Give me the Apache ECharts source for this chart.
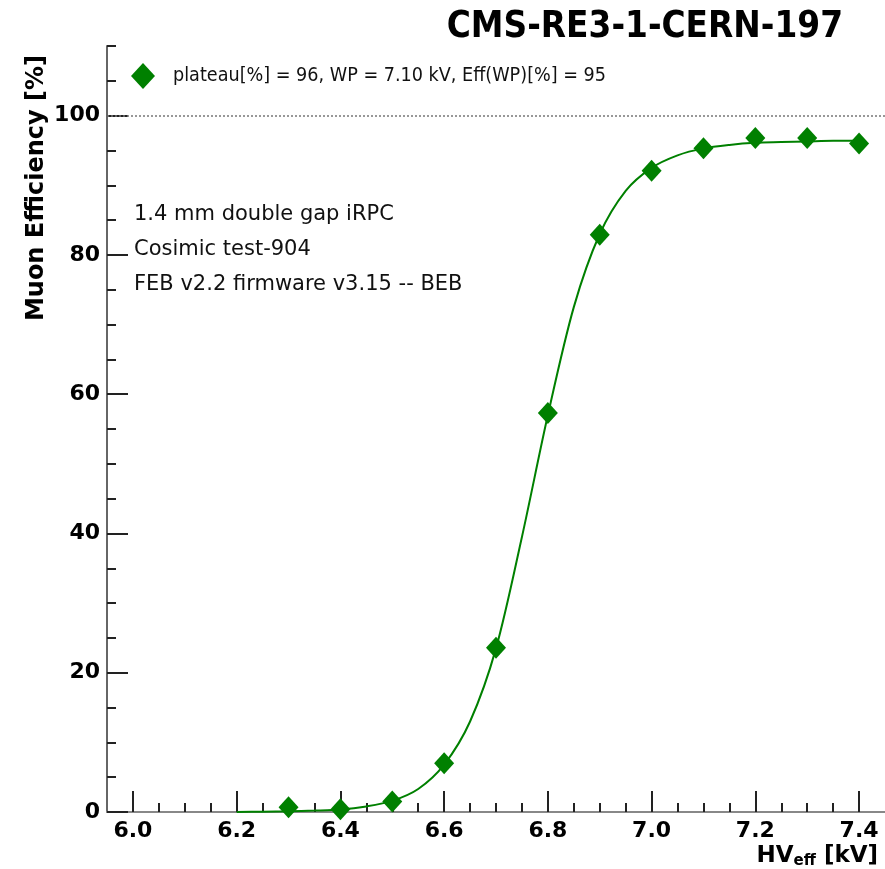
<!DOCTYPE html>
<html>
<head>
<meta charset="utf-8">
<script src="https://cdn.jsdelivr.net/npm/echarts@6/dist/echarts.min.js"></script>
<style>
  html, body { margin: 0; padding: 0; background: #fff; }
  #chart { width: 885px; height: 869px; }
</style>
</head>
<body>
<div id="chart"></div>
<script>
// measured points
let hvPoints = [6.3, 6.4, 6.5, 6.6, 6.7, 6.8, 6.9, 7.0, 7.1, 7.2, 7.3, 7.4];
let effPoints = [0.7, 0.4, 1.5, 7.0, 23.6, 57.3, 82.9, 92.1, 95.3, 96.8, 96.8, 96.0];

// fitted curve
let fitHV = [6.20, 6.25, 6.30, 6.35, 6.40, 6.45, 6.50, 6.55, 6.60, 6.65, 6.70, 6.75, 6.80,
             6.85, 6.90, 6.95, 7.00, 7.05, 7.10, 7.15, 7.20, 7.25, 7.30, 7.35, 7.40];
let fitEff = [0.0, 0.05, 0.1, 0.2, 0.35, 0.8, 1.6, 3.3, 6.8, 13.0, 23.5, 39.5, 57.0,
              72.5, 83.0, 89.2, 92.5, 94.3, 95.3, 95.8, 96.1, 96.2, 96.3, 96.4, 96.4];

let xMajorTicks = [6.0, 6.2, 6.4, 6.6, 6.8, 7.0, 7.2, 7.4];
let xMinorTicks = [6.05, 6.1, 6.15, 6.25, 6.3, 6.35, 6.45, 6.5, 6.55, 6.65, 6.7, 6.75,
                   6.85, 6.9, 6.95, 7.05, 7.1, 7.15, 7.25, 7.3, 7.35];
let yMajorTicks = [0, 20, 40, 60, 80, 100];
let yMinorTicks = [5, 10, 15, 25, 30, 35, 45, 50, 55, 65, 70, 75, 85, 90, 95, 105, 110];

let legendText = 'plateau[%] = 96, WP = 7.10 kV, Eff(WP)[%] = 95';
let infoLines = ['1.4 mm double gap iRPC', 'Cosimic test-904', 'FEB v2.2 firmware v3.15 -- BEB'];

let green = '#008000';
let tickColor = '#222';
let tickFont = {
    fontFamily: 'DejaVu Sans',
    fontWeight: 'bold',
    fontSize: 22,
    color: '#000'
};

let fitData = fitHV.map(function (v, i) { return [v, fitEff[i]]; });
let pointData = hvPoints.map(function (v, i) { return [v, effPoints[i]]; });

let infoGraphics = infoLines.map(function (t, i) {
    return {
        type: 'text',
        left: 134,
        top: 204 + i * 35,
        style: {
            text: t,
            font: '21px "DejaVu Sans"',
            fill: '#111'
        }
    };
});

let option = {
    backgroundColor: '#fff',
    animation: false,
    grid: {
        left: 107,
        top: 46,
        width: 785,
        height: 766
    },
    legend: {
        data: [legendText],
        left: 126,
        top: 58,
        icon: 'diamond',
        itemWidth: 24,
        itemHeight: 26,
        textStyle: {
            fontFamily: '"DejaVu Sans Condensed", "DejaVu Sans"',
            fontSize: 19.6,
            color: '#111',
            padding: [0, 0, 0, 13]
        }
    },
    xAxis: [
        {
            type: 'value',
            min: 5.95,
            max: 7.45,
            position: 'bottom',
            axisLine: { show: true, lineStyle: { color: '#888', width: 2 } },
            axisTick: {
                show: true,
                inside: true,
                length: 21,
                customValues: xMajorTicks,
                lineStyle: { color: tickColor, width: 2 }
            },
            axisLabel: {
                show: true,
                margin: 8,
                customValues: xMajorTicks,
                formatter: function (v) { return v.toFixed(1); },
                ...tickFont
            },
            splitLine: { show: false }
        },
        {
            type: 'value',
            min: 5.95,
            max: 7.45,
            position: 'bottom',
            axisLine: { show: false },
            axisTick: {
                show: true,
                inside: true,
                length: 9,
                customValues: xMinorTicks,
                lineStyle: { color: tickColor, width: 2 }
            },
            axisLabel: { show: false },
            splitLine: { show: false }
        }
    ],
    yAxis: [
        {
            type: 'value',
            min: 0,
            max: 110,
            position: 'left',
            axisLine: { show: true, lineStyle: { color: '#666', width: 2 } },
            axisTick: {
                show: true,
                inside: true,
                length: 21,
                customValues: yMajorTicks,
                lineStyle: { color: tickColor, width: 2 }
            },
            axisLabel: {
                show: true,
                margin: 7,
                customValues: yMajorTicks,
                ...tickFont
            },
            splitLine: { show: false }
        },
        {
            type: 'value',
            min: 0,
            max: 110,
            position: 'left',
            axisLine: { show: false },
            axisTick: {
                show: true,
                inside: true,
                length: 9,
                customValues: yMinorTicks,
                lineStyle: { color: tickColor, width: 2 }
            },
            axisLabel: { show: false },
            splitLine: { show: false }
        }
    ],
    graphic: [
        {
            type: 'text',
            right: 42,
            top: 9,
            style: {
                text: 'CMS-RE3-1-CERN-197',
                font: 'bold 36.5px "DejaVu Sans Condensed", "DejaVu Sans"',
                fill: '#000'
            }
        },
        {
            type: 'text',
            x: 37,
            y: 55,
            rotation: Math.PI / 2,
            style: {
                text: 'Muon Efficiency [%]',
                font: 'bold 24px "DejaVu Sans"',
                fill: '#000',
                align: 'right',
                verticalAlign: 'middle'
            }
        },
        {
            type: 'text',
            right: 7,
            top: 845,
            style: {
                text: '{a|HV}{b|eff}{a| [kV]}',
                rich: {
                    a: { fontFamily: 'DejaVu Sans', fontWeight: 'bold', fontSize: 23, fill: '#000', color: '#000' },
                    b: { fontFamily: 'DejaVu Sans', fontWeight: 'bold', fontSize: 15, fill: '#000', color: '#000', padding: [10, 0, 0, 0] }
                }
            }
        }
    ].concat(infoGraphics),
    series: [
        {
            name: 'fit',
            type: 'line',
            data: fitData,
            xAxisIndex: 0,
            yAxisIndex: 0,
            showSymbol: false,
            smooth: 0.3,
            lineStyle: { color: green, width: 2 },
            itemStyle: { color: green },
            z: 2,
            markLine: {
                silent: true,
                symbol: 'none',
                label: { show: false },
                lineStyle: { color: '#777', type: [2, 2], width: 1.5 },
                data: [{ yAxis: 100 }]
            }
        },
        {
            name: legendText,
            type: 'scatter',
            data: pointData,
            xAxisIndex: 0,
            yAxisIndex: 0,
            symbol: 'diamond',
            symbolSize: [20, 22],
            itemStyle: { color: green, opacity: 1 },
            z: 3
        }
    ]
};

let chart = echarts.init(document.getElementById('chart'));
chart.setOption(option);
</script>
</body>
</html>
